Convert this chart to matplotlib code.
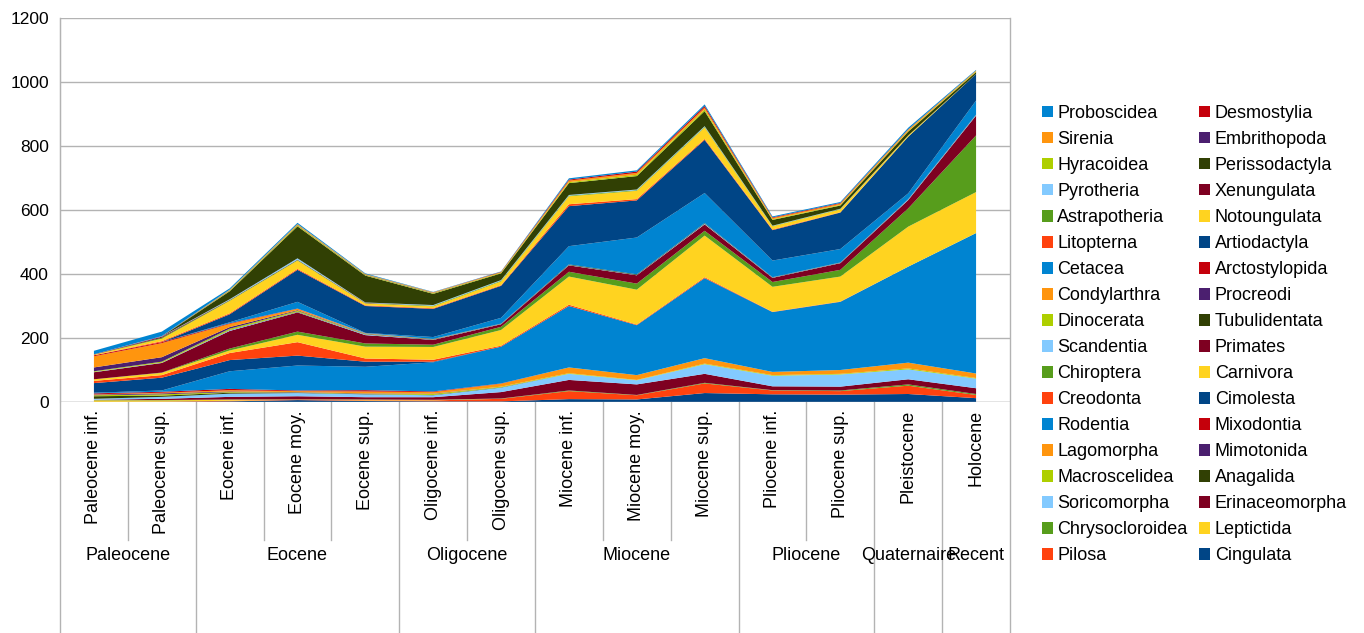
import matplotlib
matplotlib.use("Agg")
import matplotlib.pyplot as plt
from matplotlib.patches import Patch
from matplotlib.lines import Line2D
import matplotlib.transforms as mtransforms

plt.rcParams['font.family'] = ['Liberation Sans', 'DejaVu Sans']

periods = ["Paleocene inf.", "Paleocene sup.", "Eocene inf.", "Eocene moy.", "Eocene sup.",
           "Oligocene inf.", "Oligocene sup.", "Miocene inf.", "Miocene moy.", "Miocene sup.",
           "Pliocene inf.", "Pliocene sup.", "Pleistocene", "Holocene"]
epochs = ["Paleocene", "Eocene", "Oligocene", "Miocene", "Pliocene", "Quaternaire", "Recent"]
epoch_sizes = [2, 3, 2, 3, 2, 1, 1]

# series, bottom of the stack first
Cingulata       = [0, 0, 2, 6, 3, 2, 2, 9, 8, 28, 24, 23, 25, 12]
Pilosa          = [0, 1, 2, 1, 2, 3, 8, 25, 13, 30, 12, 11, 26, 10]
Leptictida      = [5, 4, 3, 1, 2, 1, 0, 0, 0, 0, 0, 0, 0, 0]
Chrysocloroidea = [1, 1, 1, 0, 1, 1, 1, 2, 1, 2, 1, 2, 4, 3]
Erinaceomorpha  = [1, 4, 8, 10, 7, 8, 20, 33, 33, 28, 12, 12, 16, 18]
Soricomorpha    = [3, 6, 10, 10, 9, 6, 14, 19, 13, 30, 33, 38, 31, 30]
Anagalida       = [8, 4, 3, 1, 1, 1, 1, 0, 0, 0, 0, 0, 0, 0]
Macroscelidea   = [3, 4, 2, 1, 1, 3, 2, 2, 1, 2, 2, 2, 3, 2]
Mimotonida      = [2, 3, 2, 1, 1, 1, 0, 0, 0, 0, 0, 0, 0, 0]
Lagomorpha      = [1, 2, 4, 3, 6, 5, 9, 18, 15, 17, 10, 12, 18, 14]
Mixodontia      = [3, 3, 4, 2, 4, 2, 1, 0, 0, 0, 0, 0, 0, 0]
Rodentia        = [2, 4, 55, 78, 73, 91, 115, 192, 156, 250, 187, 213, 300, 439]
Cimolesta       = [30, 40, 35, 31, 16, 2, 0, 0, 0, 0, 0, 0, 0, 0]
Creodonta       = [7, 8, 22, 42, 10, 6, 3, 4, 2, 3, 1, 1, 0, 0]
Carnivora       = [5, 7, 8, 23, 37, 40, 49, 88, 109, 130, 78, 78, 125, 128]
Chiroptera      = [0, 1, 6, 10, 10, 7, 10, 15, 19, 15, 15, 21, 57, 177]
Primates        = [22, 30, 55, 60, 26, 15, 8, 20, 26, 20, 13, 21, 26, 62]
Scandentia      = [1, 1, 2, 1, 2, 1, 1, 1, 1, 2, 1, 1, 2, 2]
Tubulidentata   = [0, 0, 1, 1, 1, 1, 1, 2, 2, 2, 1, 1, 1, 1]
Dinocerata      = [2, 3, 4, 3, 1, 0, 0, 0, 0, 0, 0, 0, 0, 0]
Procreodi       = [12, 14, 5, 2, 1, 0, 0, 0, 0, 0, 0, 0, 0, 0]
Condylarthra    = [35, 44, 10, 4, 1, 1, 0, 0, 0, 0, 0, 0, 0, 0]
Arctostylopida  = [3, 3, 2, 1, 0, 0, 0, 0, 0, 0, 0, 0, 0, 0]
Cetacea         = [0, 0, 3, 21, 1, 6, 18, 57, 115, 94, 52, 42, 18, 44]
Artiodactyla    = [0, 0, 25, 100, 84, 88, 100, 125, 116, 166, 95, 114, 177, 83]
Litopterna      = [0, 3, 3, 3, 2, 2, 2, 6, 4, 3, 2, 1, 0, 0]
Notoungulata    = [2, 8, 39, 26, 6, 6, 12, 25, 26, 36, 10, 9, 4, 0]
Astrapotheria   = [0, 3, 2, 2, 1, 2, 2, 2, 2, 2, 1, 1, 0, 0]
Xenungulata     = [1, 3, 1, 1, 1, 0, 0, 0, 0, 0, 0, 0, 0, 0]
Pyrotheria      = [0, 1, 2, 4, 1, 2, 2, 2, 2, 2, 1, 1, 0, 0]
Perissodactyla  = [0, 0, 25, 100, 84, 35, 21, 37, 42, 47, 18, 10, 12, 6]
Hyracoidea      = [0, 0, 2, 3, 2, 2, 2, 3, 4, 5, 2, 2, 2, 2]
Embrithopoda    = [0, 1, 1, 1, 1, 1, 0, 0, 0, 0, 0, 0, 0, 0]
Sirenia         = [0, 0, 2, 3, 2, 2, 2, 5, 6, 6, 4, 4, 4, 3]
Desmostylia     = [0, 0, 0, 0, 0, 0, 1, 3, 4, 5, 2, 2, 1, 0]
Proboscidea     = [11, 14, 4, 4, 2, 1, 1, 4, 4, 5, 3, 3, 5, 2]

names = ["Cingulata", "Pilosa", "Leptictida", "Chrysocloroidea", "Erinaceomorpha", "Soricomorpha",
         "Anagalida", "Macroscelidea", "Mimotonida", "Lagomorpha", "Mixodontia", "Rodentia",
         "Cimolesta", "Creodonta", "Carnivora", "Chiroptera", "Primates", "Scandentia",
         "Tubulidentata", "Dinocerata", "Procreodi", "Condylarthra", "Arctostylopida", "Cetacea",
         "Artiodactyla", "Litopterna", "Notoungulata", "Astrapotheria", "Xenungulata", "Pyrotheria",
         "Perissodactyla", "Hyracoidea", "Embrithopoda", "Sirenia", "Desmostylia", "Proboscidea"]
series = [Cingulata, Pilosa, Leptictida, Chrysocloroidea, Erinaceomorpha, Soricomorpha,
          Anagalida, Macroscelidea, Mimotonida, Lagomorpha, Mixodontia, Rodentia,
          Cimolesta, Creodonta, Carnivora, Chiroptera, Primates, Scandentia,
          Tubulidentata, Dinocerata, Procreodi, Condylarthra, Arctostylopida, Cetacea,
          Artiodactyla, Litopterna, Notoungulata, Astrapotheria, Xenungulata, Pyrotheria,
          Perissodactyla, Hyracoidea, Embrithopoda, Sirenia, Desmostylia, Proboscidea]

palette = ['#004586', '#ff420e', '#ffd320', '#579d1c', '#7e0021', '#83caff',
           '#314004', '#aecf00', '#4b1f6f', '#ff950e', '#c5000b', '#0084d1']
colors = [palette[i % 12] for i in range(len(series))]

W, H = 1364, 633
fig = plt.figure(figsize=(W / 100, H / 100), dpi=100)
L, R, T, B = 60, 1010, 18, 402
ax = fig.add_axes([L / W, 1 - B / H, (R - L) / W, (B - T) / H])

x = list(range(len(periods)))
ax.stackplot(x, *series, colors=colors, linewidth=0, zorder=2)

ax.set_xlim(-0.5, len(periods) - 0.5)
ax.set_ylim(0, 1200)
ax.set_yticks(range(0, 1201, 200))
ax.tick_params(axis='y', length=0, labelsize=12.5, pad=8)
ax.set_xticks([])
grid_c = '#b3b3b3'
ax.grid(axis='y', color=grid_c, linewidth=1.0, zorder=0)
for s in ['top', 'right', 'bottom']:
    ax.spines[s].set_visible(False)
ax.spines['left'].set_color(grid_c)
ax.axhline(0, color=grid_c, lw=1.0, zorder=3)

trans = mtransforms.blended_transform_factory(ax.transData, ax.transAxes)
y_short = (B - 540) / (B - T)
y_long = (B - H) / (B - T)

# category labels
for i, p in enumerate(periods):
    ax.text(i, (B - 410) / (B - T), p, rotation=90, ha='center', va='top',
            fontsize=13, transform=trans)

# dividers
long_b = [-0.5]
acc = -0.5
for n in epoch_sizes:
    acc += n
    long_b.append(acc)
for k in range(len(periods) + 1):
    b = k - 0.5
    is_long = any(abs(b - lb) < 1e-9 for lb in long_b)
    y0 = y_long if is_long else y_short
    top = 1.0 if (k == 0 or k == len(periods)) else 0.0
    ax.add_line(Line2D([b, b], [y0, top], transform=trans, color=grid_c, lw=1.0,
                       clip_on=False, zorder=1))

# epoch labels
start = 0
for e, n in zip(epochs, epoch_sizes):
    c = start + (n - 1) / 2
    ax.text(c, (B - 556) / (B - T), e, ha='center', va='center', fontsize=13,
            transform=trans)
    start += n

# legend, row-wise order, top series first
rev = list(zip(names, colors))[::-1]
col1 = rev[0::2]
col2 = rev[1::2]
ordered = col1 + col2
handles = [Patch(facecolor=c, edgecolor='none', label=n) for n, c in ordered]
fig.legend(handles=handles, loc='upper left', bbox_to_anchor=(1033 / W, 1 - 96 / H),
           ncol=2, frameon=False, fontsize=13, handlelength=0.6, handleheight=0.6,
           handletextpad=0.25, labelspacing=0.5, columnspacing=0.65, borderpad=0)

fig.savefig("out.png", dpi=100)
